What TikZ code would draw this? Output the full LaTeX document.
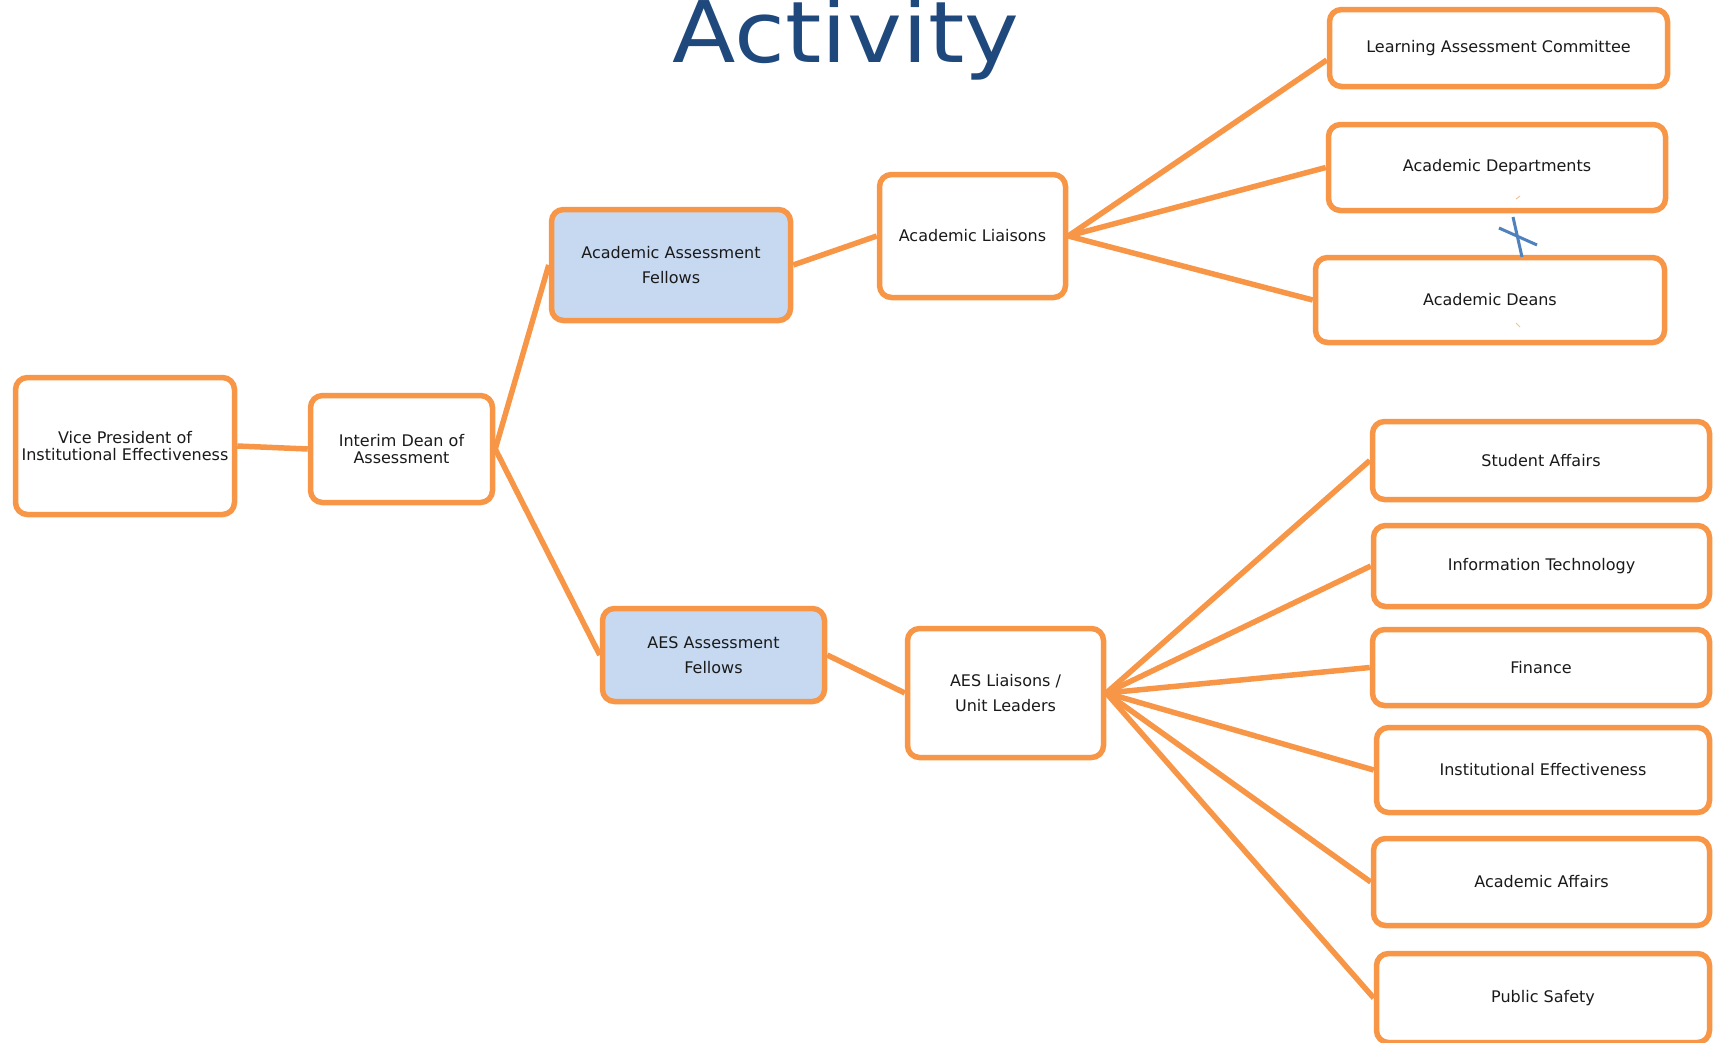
\documentclass[tikz,border=0pt]{standalone}
\usepackage{fontspec}
\setmainfont{DejaVu Sans}
\definecolor{orangec}{HTML}{F79646}
\definecolor{bluefill}{HTML}{C6D9F1}
\definecolor{titleblue}{HTML}{1F497D}
\definecolor{xblue}{HTML}{4F81BD}
\definecolor{tickorange}{HTML}{FAC090}
\definecolor{txt}{HTML}{1A1A1A}
\tikzset{
  box/.style={draw=orangec, line width=5.5pt, rounded corners=12pt, fill=white, text=txt,
    inner sep=0pt, align=center, font=\fontsize{16}{24.5}\selectfont},
  tightbox/.style={box, font=\fontsize{16}{17.5}\selectfont},
  bluebox/.style={box, fill=bluefill},
  conn/.style={draw=orangec, line width=5.5pt},
}
\begin{document}
\begin{tikzpicture}[x=1pt, y=-1pt]
\path[use as bounding box] (0,0) rectangle (1714,1042);
\clip (0,0) rectangle (1714,1042);

% title
\node[anchor=base, text=titleblue, inner sep=0pt, font=\fontsize{85}{95}\selectfont] (title) at (846,62) {\scalebox{1.09}[1]{Activity}};

% nodes
\node[tightbox, minimum width=219pt, minimum height=137pt] (vp) at (125,446) {Vice President of\\Institutional Effectiveness};
\node[tightbox, minimum width=182pt, minimum height=107pt] (dean) at (401.5,449) {Interim Dean of\\Assessment};
\node[bluebox, minimum width=239pt, minimum height=111pt] (aaf) at (671,265) {Academic Assessment\\Fellows};
\node[bluebox, minimum width=222pt, minimum height=93pt] (aesf) at (713.5,655) {AES Assessment\\Fellows};
\node[box, minimum width=186pt, minimum height=123pt] (al) at (972.5,236) {Academic Liaisons};
\node[box, minimum width=196pt, minimum height=129pt] (aesl) at (1005.5,693) {AES Liaisons /\\Unit Leaders};
\node[box, minimum width=338pt, minimum height=77pt] (lac) at (1498.5,48) {Learning Assessment Committee};
\node[box, minimum width=337pt, minimum height=86pt] (ad) at (1497,167.5) {Academic Departments};
\node[box, minimum width=349pt, minimum height=85pt] (deans) at (1490,300) {Academic Deans};
\node[box, minimum width=337pt, minimum height=78pt] (sa) at (1541,460.5) {Student Affairs};
\node[box, minimum width=336pt, minimum height=81pt] (it) at (1541.5,566) {Information Technology};
\node[box, minimum width=337pt, minimum height=76pt] (fin) at (1541,667.5) {Finance};
\node[box, minimum width=333pt, minimum height=85pt] (ie) at (1543,770) {Institutional Effectiveness};
\node[box, minimum width=336pt, minimum height=87pt] (aa) at (1541.5,882) {Academic Affairs};
\node[box, minimum width=333pt, minimum height=89pt] (ps) at (1543,998) {Public Safety};

% connectors
\draw[conn] (vp.east) -- (dean.west);
\draw[conn] (dean.east) -- (aaf.west);
\draw[conn] (dean.east) -- (aesf.west);
\draw[conn] (aaf.east) -- (al.west);
\draw[conn] (aesf.east) -- (aesl.west);
\draw[conn] (al.east) -- ([yshift=-12pt]lac.west);
\draw[conn] (al.east) -- (ad.west);
\draw[conn] (al.east) -- (deans.west);
\draw[conn] (aesl.east) -- (sa.west);
\draw[conn] (aesl.east) -- (it.west);
\draw[conn] (aesl.east) -- (fin.west);
\draw[conn] (aesl.east) -- (ie.west);
\draw[conn] (aesl.east) -- (aa.west);
\draw[conn] (aesl.east) -- (ps.west);

% small marks
\draw[xblue, line width=3pt] (1513,217) -- (1522,257);
\draw[xblue, line width=3pt] (1499,228) -- (1537,245);
\draw[tickorange, line width=1pt] (1516,199) -- (1520,196);
\draw[tickorange, line width=1pt] (1516,323) -- (1520,327);
\end{tikzpicture}
\end{document}
